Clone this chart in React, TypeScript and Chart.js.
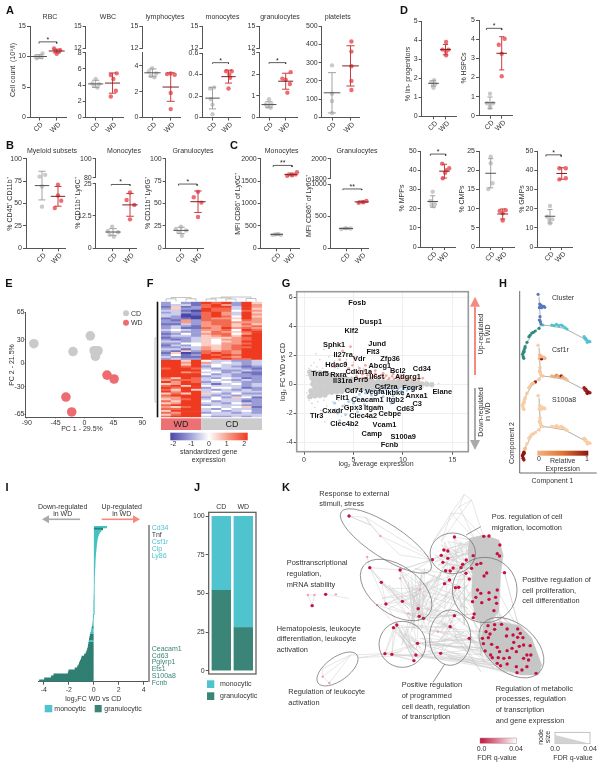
import { useEffect, useRef } from "react";
import { Chart, registerables } from "chart.js";
Chart.register(...registerables);

const PAGE_W = 604, PAGE_H = 769;
const FONT = '"Liberation Sans", Arial, sans-serif';
Chart.defaults.font.family = FONT;
const TXT = "#333333", AXIS = "#555555";
const CD_C = "#C9CACC", WD_C = "#EE6B70", MONO = "#4FC3CE", GRAN = "#3A8577";

/* ---------- dot-plot data: [jitter, value] ---------- */
const rbcCD = [[-.12,9.7],[.15,9.85],[-.2,10],[.05,10.1],[.2,10.5]];
const rbcWD = [[-.15,11.3],[.2,11.05],[-.05,10.95],[.12,10.8],[0,10.45]];
const wbcCD = [[0,4.75],[-.2,4.2],[.2,4.1],[-.1,3.9],[.1,3.7]];
const wbcWD = [[.25,5.45],[-.1,5.25],[.05,4.75],[.2,3.3],[-.1,2.6]];
const lymCD = [[-.02,3.8],[-.2,3.55],[.2,3.4],[-.1,3.2],[.1,3.1]];
const lymWD = [[-.2,3.35],[.22,3.3],[0,3.4],[0,1.9],[0,.65]];
const monCD = [[.1,.28],[-.15,.27],[-.1,.17],[0,.12],[0,.03]];
const monWD = [[-.15,.43],[.2,.43],[.05,.4],[.1,.37],[0,.27]];
const graCD = [[0,.85],[-.2,.6],[.15,.6],[-.1,.5],[.1,.45]];
const graWD = [[.3,2.1],[-.2,1.8],[0,1.75],[.25,1.55],[.1,1.15]];
const pltCD = [[0,285],[0,90],[0,130],[0,25]];
const pltWD = [[.05,415],[.05,360],[.05,280],[.05,200],[.05,150]];
const linCD = [[.05,1.9],[-.2,1.8],[.15,1.7],[-.05,1.6],[0,1.5]];
const linWD = [[.05,3.9],[-.25,3.5],[.25,3.5],[.05,3.4],[.05,3.2]];
const hspCD = [[0,1.15],[-.25,.65],[.25,.65],[0,.5],[0,.4]];
const hspWD = [[.25,4.03],[-.25,3.72],[0,3.25],[0,2.07]];
const myeCD = [[.2,82],[-.15,80],[0,69],[0,46.5]];
const myeWD = [[0,71],[0,59],[.2,53],[-.2,45]];
const bmoCD = [[-.05,8.4],[-.3,6.7],[.3,6.2],[-.2,5.2],[.05,4.5]];
const bmoWD = [[0,21.6],[-.2,18.7],[.25,16.8],[0,11.2]];
const bgrCD = [[0,24],[-.3,21.6],[.3,20],[-.15,18],[.05,14]];
const bgrWD = [[0,63],[-.25,57],[.2,51],[0,35]];
const cmoCD = [[-.3,300],[-.1,310],[.1,320],[.3,300]];
const cmoWD = [[-.25,1620],[.1,1630],[.35,1650],[.45,1700]];
const cgrCD = [[-.3,300],[0,315],[.3,310]];
const cgrWD = [[-.2,710],[.1,720],[.3,740]];
const mppCD = [[0,28.8],[-.2,24],[.2,22.4],[-.1,21.9],[.1,21.2]];
const mppWD = [[-.2,43.4],[.4,41],[.15,40],[.05,38.7],[-.15,35.8]];
const cmpCD = [[0,23.5],[0,21.8],[.15,16.6],[-.2,15.1]];
const cmpWD = [[.25,9.6],[-.25,9.4],[0,8.8],[0,6.9]];
const gmpCD = [[0,21.4],[-.25,15.8],[.2,14.4],[-.05,14],[0,12.3]];
const gmpWD = [[-.2,41],[.35,41],[.35,35.8],[-.2,35.2]];

/* ---------- mean / sd ---------- */
const dotMeans: Record<string, number[][]> = {
  rbc: [[10, .3], [10.9, .3]], wbc: [[4.15, .45], [4.25, 1.25]], lym: [[3.45, .3], [2.35, 1.1]],
  mon: [[.18, .1], [.38, .06]], gra: [[.6, .13], [1.68, .37]], plt: [[135, 110], [282, 110]],
  lin: [[1.73, .15], [3.5, .27]], hsp: [[.68, .3], [3.27, .87]], mye: [[70, 16], [58, 11]],
  bmo: [[6.3, 1.3], [16.8, 4.4]], bgr: [[20, 3.5], [52, 12]], cmo: [[310, 20], [1650, 30]],
  cgr: [[310, 12], [725, 15]], mpp: [[23.7, 3], [39.5, 3.6]], cmp: [[19.2, 3.8], [8.6, 1.3]], gmp: [[16, 3.5], [38.3, 3]],
};

/* ---------- PCA ---------- */
const pcaCD = [[-79,25],[-18,15],[9,35],[15,16],[21,16],[17,9]];
const pcaWD = [[35,-15],[46,-20],[-29,-43],[-20,-62]];

/* ---------- heatmap: digits 0..8 stand for -2..2, one string per gene row, 4 WD then 6 CD samples ---------- */
const heatRows = [
"2421878285","2331786286","1512788386","2522877385","3310877476","2321786385","3301786386","3200787485","1210766586","2162777476",
"2262677666","1132677575","2321667567","2311768676","3432667487","2322576578","1242677468","2332567588","1223555678","2123546678",
"3323545688","2244546678","1324556788","2233656778","3313656788","2152767688","1501787688","2412878788","3211887688","2322878778",
"8858433223","8868634323","8858343323","8878243212","7887323321","8888432232","8867342311","8888423221","8888233222","7587324312",
"6777343232","8687234322","5688313423","7858433323","8788244312","7585323232","8688343333","5758532422","7888323233","6688242541",
"5678343322","7588423312","5688332432","7888233322","6578443451","7788324332","5888342342","7688233232","5788433333","7888322323",
];

/* ---------- MA plot ---------- */
const geneNames = ["Fosb","Dusp1","Klf2","Sphk1","Jund","Flt3","Il27ra","Vdr","Zfp36","Hdac9","Abcg1","Bcl2","Cd34","Traf5","Rxra","Cdkn1a","Il6st","Adgrg1","Il31ra","Prr5","Csf2ra","Fcgr3","Elane","Cd74","Vegfa","Ikbke","Anxa1","Flt1","Ceacam1","Itgb2","C3","Cxadr","Gpx3","Itgam","Cd63","Tlr3","Clec4a2","Cebpe","Clec4b2","Vcam1","Camp","S100a9","Fcnb"];
const geneX = [5.36,6.75,4.79,3.04,7.39,6.98,3.95,5.57,8.7,3.27,7.66,9.48,11.91,1.62,3.48,5.53,7.35,10.49,3.91,5.74,8.3,10.93,13.97,5.03,7.15,9.18,11.37,3.88,6.41,9.21,11.44,2.9,4.96,7.05,10.22,1.28,5.97,8.67,4.08,8.13,6.85,10.02,8.64];
const geneY = [5.63,4.32,3.68,2.71,2.8,2.25,2.05,1.75,1.77,1.31,1.26,.94,1.08,.69,.64,.85,.51,.48,.21,.3,-.18,-.25,-.51,-.44,-.55,-.62,-.83,-.97,-1.06,-1.1,-1.33,-1.84,-1.61,-1.61,-1.7,-2.21,-2.21,-2.02,-2.76,-2.78,-3.43,-3.63,-4.16];
const maCore = [[.9,.02],[1.4,-.04],[1.9,.05],[2.4,-.03],[2.9,.04],[3.4,-.02],[3.9,.03],[4.4,-.05],[4.9,.02],[5.4,.04],[5.9,-.03],[6.4,.02],[6.9,-.04],[7.4,.03],[7.9,-.02],[8.4,.04],[8.9,-.03],[9.4,.02],[9.9,.03],[10.4,-.02],[10.9,.02],[11.4,-.03],[11.9,.02],[12.4,.01],[12.9,-.02],
[1,.24],[1.5,.19],[2,.23],[2.5,.18],[3,.22],[3.5,.2],[4,.17],[4.5,.23],[5,.18],[5.5,.21],[6,.16],[6.5,.2],[7,.17],[7.5,.21],[8,.16],[8.5,.19],[9,.15],[9.5,.18],[10,.14],[10.5,.15],[11,.12],[11.5,.1],
[1.1,-.22],[1.6,-.18],[2.1,-.25],[2.6,-.19],[3.1,-.21],[3.6,-.17],[4.1,-.23],[4.6,-.19],[5.1,-.22],[5.6,-.18],[6.1,-.2],[6.6,-.17],[7.1,-.2],[7.6,-.16],[8.1,-.19],[8.6,-.15],[9.1,-.17],[9.6,-.14],[10.1,-.15],[10.6,-.12],[11.1,-.11],
[.8,.44],[1.3,.41],[1.8,.43],[2.3,.38],[2.8,.42],[3.3,.39],[3.8,.4],[4.3,.37],[4.8,.36],[5.3,.33],[5.8,.31],[6.3,.3],[6.8,.28],
[.7,-.45],[1.2,-.41],[1.7,-.44],[2.2,-.39],[2.7,-.42],[3.2,-.38],[3.7,-.4],[4.2,-.36],[4.7,-.37],[5.2,-.33],[5.7,-.3],[6.2,-.29],[6.7,-.27],
[.7,.66],[1.2,.62],[1.7,.64],[2.2,.58],[2.7,.6],[3.2,.55],[3.7,.53],[.8,-.66],[1.3,-.62],[1.8,-.6],[2.3,-.58],[2.8,-.55],[3.3,-.52],[3.8,-.5],
[.6,.85],[1.1,.82],[1.6,.8],[2.1,.76],[.6,-.85],[1.1,-.8],[1.6,-.78],[2.1,-.74]];
const maSparse = [[.5,1.1],[.7,1.3],[1,1.5],[1.3,1.2],[1.6,1.7],[1.9,1.1],[2.2,1.4],[2.5,1.9],[2.8,1.2],[3.1,1.6],[3.4,1.1],[3.7,2.1],[4,1.3],[4.3,1.7],[4.6,1.1],[5,1.5],[5.5,1.2],[6,1.1],
[.5,-1.1],[.8,-1.3],[1.1,-1.6],[1.4,-1.2],[1.7,-1.8],[2,-1.1],[2.3,-1.5],[2.6,-2],[2.9,-1.2],[3.2,-1.7],[3.5,-1.1],[3.8,-2.2],[4.1,-1.4],[4.4,-1.8],[4.8,-1.1],[5.2,-1.5],[5.7,-1.2],[6.2,-1.1],
[.4,.9],[.4,-.9],[.3,.6],[.3,-.6],[1.2,2.1],[2,2.4],[2.9,2.6],[1.3,-2.2],[2.1,-2.6],[3,-2.8],[11.6,.25],[12.3,.2],[13,.1],[13.6,.05],[12,-.2],[12.8,-.12]];
const maUp = [[3.1,1.2],[3.6,1.7],[3.9,2.3],[4.2,1.5],[4.5,1.1],[4.7,2.6],[4.9,1.3],[5.1,1.8],[5.4,.8],[5.6,1.1],[5.9,.7],[6.1,.95],[6.4,.62],[6.7,.8],[7,.55],[7.2,.72],[7.5,.48],[7.8,.64],[8.1,.45],[8.3,.6],[8.6,.4],[8.9,.55],[9.1,.38],[9.4,.5],[9.7,.35],[10,.45],[10.3,.32],[10.6,.42],[10.9,.3],[11.2,.38],[11.6,.34],[12,.42],[8,.75],[9,.72],[7.2,.95],[6.2,1.3],[5.3,.55],[6,.45],[6.8,.42],[9.8,.62]];
const maDown = [[3.1,-1.3],[3.4,-2],[3.6,-2.5],[3.9,-1.5],[4.2,-2.1],[4.5,-1.2],[4.7,-2.8],[5,-1.3],[5.3,-.9],[5.6,-.7],[5.9,-1],[6.2,-.6],[6.5,-.5],[6.8,-.75],[7.1,-.45],[7.4,-.62],[7.7,-.42],[8,-.58],[8.3,-.38],[8.6,-.55],[8.9,-.35],[9.2,-.5],[9.5,-.32],[9.8,-.45],[10.1,-.3],[10.4,-.42],[10.7,-.28],[11,-.36],[11.3,-.25],[11.7,-.3],[7,-1],[8,-.85],[9,-.8],[10,-.7],[6.1,-1.4],[7.6,-1.5],[5.4,-1.9],[8.8,-1.3]];

/* ---------- trajectory ---------- */
const trajBlue = [[207,118],[212,147],[216,150],[213,155],[221,155],[228,157],[211,158],[218,158],[215,152],[225,154],[213,185],[211,195],[214,200],[216,207]];
const trajCyan = [[222,210],[250,210],[258,212],[265,208],[272,212],[280,210],[285,213],[292,218],[298,222],[352,245],[357,250],[360,256],[365,258],[370,260],[362,262],[355,252]];
const trajGreen = [[210,220],[198,228],[192,232],[187,234],[182,240],[178,245],[172,262],[165,280],[162,287],[160,293],[163,290],[158,298],[160,305],[162,310],[166,275]];
const trajLine = [[210,125],[213,180],[218,210],[240,212],[290,220],[320,235],[370,260],[NaN,NaN],[218,210],[190,235],[170,265],[158,310]];
const csfBlue = [.02,.1,.15,.05,.15,.2,.1,1,.15,.1,.05,.05,.05,.05];
const csfCyan = [.05,.15,.2,.3,.2,.95,.25,.15,.1,.9,1,1,1,.95,1,.9];
const csfGreen = [.05,.95,.1,.1,.05,.05,.05,.02,.02,.02,.02,.02,.02,.02,.02];
const s100Blue = [.02,.02,.02,.02,.02,.02,.02,.02,.02,.02,.02,.02,.02,.02];
const s100Cyan = [.02,.02,.02,.02,.02,.02,.02,.02,.02,.02,.02,.02,.02,.02,.02,.02];
const s100Green = [.02,.02,.02,.02,.02,.02,.02,.05,.95,1,1,1,1,.95,.1];

/* ---------- ranked fold change ---------- */
const rankFC = [1.04,.72,.58,.46,.38,.33,.29,.27,.25,.23,.21,.19,.18,.16,.15,.14,.13,.12,.11,.1,.1,.09,.08,.08,.07,.06,.06,.05,.05,.05,.04,.04,.03,.03,.03,.02,.02,.02,.01,.01,.01,.01,.005,.005,.005,-.01,-.02,-.04,-.06,-.08,-.1,-.13,-.17,-.2,-.26,-.28,-.32,-.35,-.38,-.4,-.43,-.45,-.5,-.55,-.62,-.75,-.95,-1,-1.08,-1.15,-1.2,-1.3,-1.5,-2,-2.05,-3.2,-3.4,-3.95,-4.35];
const rankClass = "mgmmmmmmmmmmmmmmmmmmmmmmmmmmmmmmmmmmmmmmmmmmmmmmmmmgmmmgggmgggggggggggggggggggggggg";

/* ---------- composition ---------- */
const compGran = [52, 28];
const compMono = [48, 72];

/* ---------- network (component coordinates) ---------- */
const netStrong = [[560,186],[649,184],[665,183],[698,210],[528,225],[540,228],[520,241],[540,250],[525,262],[493,254],[596,255],[617,242],[690,236],[697,243],[585,268],[580,278],[556,279],[533,287],[547,288],[640,265],[628,268],[612,280],[595,295],[658,294],[650,303],[712,293],[605,312],[545,315],[530,326],[573,337],[563,338],[630,345],[640,355],[665,353],[690,345],[625,367],[643,383],[665,373],[685,367],[688,385],[615,380],[680,407],[620,417],[617,428],
[303,278],[395,285],[338,322],[169,358],[128,392],[352,387],[402,379],[450,401],[453,424],[466,430],[375,458],[385,450],[448,505],[349,536],[370,538],[443,540],[437,557],[518,535],[547,455],[560,422],[605,490],[240,123],
[662,452],[682,449],[703,448],[682,463],[656,470],[668,477],[720,462],[752,462],[760,475],[738,480],[768,488],[645,490],[663,488],[718,483],[752,487],[740,502],[770,510],[757,514],[648,506],[673,508],[690,517],[653,528],[735,520],[748,530],[790,512],[697,530],[720,527],[670,540],[675,548],[693,548],[710,550],[727,548],[780,540],[792,540],[770,550],[785,555],[690,565],[700,572],[720,567],[748,575],[780,575],[765,585],[750,593],[808,595]];
const netPale = [[335,183],[200,358],[325,390],[420,415],[455,343],[395,310],[295,246],[115,360],[135,360],[462,540],[160,605],[180,624],[510,470]];
const netChains = [
[550,115,590,58,612,75,580,115,550,115,495,200,575,95,620,190,550,115,520,200,580,115,650,190,612,75,575,95,590,58],
[240,123,290,127,305,150,240,123,305,150,335,183,395,240,490,254,335,183,290,127,490,250],
[295,246,303,278,338,322,352,387,303,278,395,285,493,254,395,310,466,430,338,322,450,401,395,285,402,379,352,387,325,390],
[115,360,135,360,128,392,115,360],[169,358,240,370],
[160,605,245,540,180,624,160,605,160,580,245,540,349,536,443,540,270,548,400,530],
[490,254,395,285,470,340,352,387,520,300,402,379,545,315,450,401,573,337,453,424,620,417,466,430,560,422,420,415,547,455,375,458,518,535,443,540,605,490,448,505,650,520,462,540,690,565],
[385,450,640,490,448,505,660,560,370,538,700,572,443,540,750,593,518,535,808,595,605,490,748,575,560,422,720,567,547,455,650,528,470,500,700,540,460,470,650,470,440,450,690,520,470,510,660,500,455,490,645,540,480,530,700,560,500,540,720,590,540,545,740,600,590,510,680,580,600,470,650,560,620,440,660,520,640,430,640,540],
[493,254,620,200,528,225,650,184,540,250,698,210,560,186,640,265,520,241,612,280,525,262,658,294,533,287,690,236,547,288,712,293,556,279,605,312,545,315,595,295,573,337,530,326,617,242,563,338,596,255,540,228,605,312,500,240,610,270,510,270,620,230,500,260,600,210,540,200,610,300,520,210,590,240,560,190,570,290,530,200,540,290,580,200,590,280,600,200,520,280,605,225,495,250],
[620,417,662,452,640,355,682,449,665,373,703,448,685,367,656,470,625,367,720,462,680,407,752,462,643,383,738,480,617,428,668,477,630,345,645,490,690,345,760,475,712,293,770,510,610,300,640,440,590,330,660,445,575,345,650,455,560,360,640,470],
[430,300,440,460,420,320,445,520,460,300,400,510,480,320,450,440,510,310,440,420,470,420,530,326,500,380,560,422,470,400,600,420,540,300,530,400,590,300,590,450,570,330,520,470,610,350,500,520,430,350,600,400,450,320,620,380,420,340,560,300,440,280,590,340,460,290,450,420,440,300,480,400,425,380,500,300,445,400,540,260,430,430,470,280,460,460,520,290,480,450,550,340,490,420,600,330,520,440,620,300,470,430,440,350,430,470,455,360,425,450],
[375,458,443,540,385,450,437,557,390,470,448,505,410,490,462,540,400,480,437,557,349,536,448,505,370,538,385,450,349,536,375,458,370,538,437,557,420,500,450,530,395,470,440,525,410,475,460,520,400,455,450,550,380,470,430,520,415,460,465,535],
[547,455,505,430,530,420,490,480,560,422,520,500,590,470,518,535,547,455,600,520,500,510,620,560,560,480,640,590,540,420,570,500,520,440,600,480,510,500,580,430,500,460,590,520],
[352,387,450,430,338,322,420,400,303,278,430,440,360,330,470,430,395,285,520,420,402,379,540,455,325,390,400,470,360,400,450,360,340,370,460,340,370,340,440,380,400,300,470,380],
];
const netDenseTop = [605,190,650,180,695,195,708,240,700,300,695,410,665,445,625,435,612,360,615,300,605,262,600,230];
const netDenseLow = [648,445,700,440,760,452,795,490,825,570,815,600,760,600,700,580,660,545,640,500];
const netEllipses = [[352,198,160,50,33],[555,235,68,61,0],[383,345,122,72,36],[652,345,97,98,0],[547,488,62,83,0],[402,508,70,69,0],[733,518,112,72,40],[205,582,72,35,-36]];
const netLeaders = [[595,180,640,155],[495,622,530,568]];

/* ---------- helpers ---------- */
const seg = (list: number[][]) => list.flatMap(([a, b, c, d]) => [{ x: a, y: b }, { x: c, y: d }, { x: NaN, y: NaN }]);
const pts = (list: number[][]) => list.map(([x, y]) => ({ x, y }));
const flat = (l: number[]) => { const o: any[] = []; for (let i = 0; i < l.length; i += 2) o.push({ x: l[i], y: l[i + 1] }); return o; };

const pad = (b: any, W = 0, H = 0, xTop = false) => ({
  left: b.l - W, right: PAGE_W - b.r,
  top: xTop ? b.t - H : b.t, bottom: xTop ? PAGE_H - b.b : PAGE_H - b.b - H,
});
const base = (b: any, W = 0, H = 0, xTop = false) => ({
  animation: false as const, responsive: false, maintainAspectRatio: false, events: [] as any[],
  layout: { padding: pad(b, W, H, xTop) },
  plugins: { legend: { display: false }, title: { display: false }, tooltip: { enabled: false } },
});
const hidden = (min: number, max: number, extra: any = {}) => ({ type: "linear", display: false, min, max, ...extra });
const axis = (min: number, max: number, ticks: number[], size: number, opts: any = {}) => ({
  type: "linear", min, max, offset: false,
  afterBuildTicks: (s: any) => { s.ticks = ticks.map(v => ({ value: v })); },
  afterFit: (s: any) => { if (s.isHorizontal()) s.height = size; else s.width = size; },
  ticks: { autoSkip: false, font: { size: opts.font || 7 }, color: TXT, padding: opts.tickPad ?? 1, maxRotation: 0, minRotation: 0, callback: opts.label || ((v: any) => String(v)) },
  grid: { drawOnChartArea: !!opts.gridColor, color: opts.gridColor || AXIS, tickColor: AXIS, tickLength: opts.tickLen ?? 3, offset: false },
  border: { display: opts.border !== false, color: AXIS, width: 1 },
  ...(opts.extra || {}),
});
const line = (data: any[], color: string, width = 1, extra: any = {}) => ({ data, showLine: true, pointRadius: 0, borderColor: color, borderWidth: width, clip: false, ...extra });
const dots = (data: any[], color: any, r: number, extra: any = {}) => ({ data, showLine: false, pointRadius: r, pointBackgroundColor: color, pointBorderWidth: 0, clip: false, ...extra });

function dotPanel(d: any, cd: number[][], wd: number[][], key: string) {
  const unit = d.wdX - d.cdX;
  const b = { l: d.axis, r: d.right, t: d.top, b: d.bottom };
  const [[mc, sc], [mw, sw]] = dotMeans[key];
  const whisker = (x: number, m: number, s: number) => seg([[x, m - s, x, m + s], [x - .22, m + s, x + .22, m + s], [x - .22, m - s, x + .22, m - s]]);
  const ds: any[] = [
    line(seg([[-.45, mc, .45, mc]]), "#555555"),
    line(seg([[.55, mw, 1.45, mw]]), "#7D1F22"),
    line(whisker(0, mc, sc), "#A2A2A4"),
    line(whisker(1, mw, sw), "#C83C42"),
  ];
  const notes: any[] = [];
  if (d.bracket) {
    const [y, from, to, star] = d.bracket;
    const drop = d.ymax * .018;
    ds.unshift(line(seg([[from, y - drop, from, y], [from, y, to, y], [to, y, to, y - drop]]), "#333333", .8));
    notes.push([star, (from + to) / 2, y]);
  }
  ds.push(dots(pts(cd), CD_C, 2.2), dots(wd.map(([j, y]) => ({ x: 1 + j, y })), WD_C, 2.2));
  const out: any[] = [{
    type: "scatter", data: { datasets: ds },
    options: {
      ...base(b, 22, 16),
      scales: {
        x: axis((d.axis - d.cdX) / unit, (d.right - d.cdX) / unit, [0, 1], 16, {
          label: (v: any) => (v === 0 ? "CD" : "WD"), tickPad: 0,
        }),
        y: axis(0, d.ymax, d.ticks, 22),
      },
    },
    plugins: notes.length ? [{
      id: "stars",
      afterDraw(c: any) {
        const g = c.ctx; g.save(); g.fillStyle = "#222"; g.font = `7px ${FONT}`; g.textAlign = "center"; g.textBaseline = "middle";
        notes.forEach(([s, x, y]) => g.fillText(s, c.scales.x.getPixelForValue(x), c.scales.y.getPixelForValue(y) - 2));
        g.restore();
      },
    }] : [],
  }];
  const xt = out[0].options.scales.x.ticks;
  xt.minRotation = 45; xt.maxRotation = 45; xt.labelOffset = 3;
  if (d.upper) {
    const [t, bt, lo, hi] = d.upper;
    const ub = { l: d.axis, r: d.axis + 2, t, b: bt };
    out.push({
      type: "scatter", data: { datasets: [] },
      options: { ...base(ub, 22, 0), scales: { x: hidden(0, 1), y: { ...axis(lo, hi, [lo, hi], 22) } } },
    });
  }
  return out;
}

const lerpHex = (stops: string[], t: number) => {
  const n = stops.length - 1, p = Math.max(0, Math.min(n, t * n)), i = Math.min(n - 1, Math.floor(p)), f = p - i;
  const h = (s: string, k: number) => parseInt(s.slice(1 + 2 * k, 3 + 2 * k), 16);
  const c = [0, 1, 2].map(k => Math.round(h(stops[i], k) + (h(stops[i + 1], k) - h(stops[i], k)) * f));
  return `rgb(${c[0]},${c[1]},${c[2]})`;
};
const HEAT = ["#4A46A8", "#9A9DD6", "#FFFFFF", "#F79A86", "#EF3A20"];
const EXPR = ["#F9D2AC", "#E0752F", "#8E1414"];

function buildSpecs() {
  const specs: any[] = [];
  const T1 = 26, B1 = 117.5;
  const add = (...a: any[]) => specs.push(...a);
  add(...dotPanel({ axis: 30, right: 66, cdX: 39, wdX: 56.7, top: T1, bottom: B1, ymax: 15, ticks: [0, 5, 10, 15], bracket: [12.4, 0, 1, "*"] }, rbcCD, rbcWD, "rbc"));
  add(...dotPanel({ axis: 85.7, right: 124, cdX: 95.7, wdX: 112.5, top: 52.7, bottom: B1, ymax: 8, ticks: [0, 2, 4, 6, 8], upper: [T1, 48, 12, 15] }, wbcCD, wbcWD, "wbc"));
  add(...dotPanel({ axis: 142.3, right: 180, cdX: 152.5, wdX: 170.7, top: 52.7, bottom: B1, ymax: 5, ticks: [0, 2, 4], upper: [T1, 48, 12, 15] }, lymCD, lymWD, "lym"));
  add(...dotPanel({ axis: 202.3, right: 240, cdX: 212.5, wdX: 228.5, top: 53, bottom: B1, ymax: .6, ticks: [0, .2, .4, .6], bracket: [.51, 0, 1, "*"], upper: [T1, 48, 12, 15] }, monCD, monWD, "mon"));
  add(...dotPanel({ axis: 259.3, right: 297, cdX: 269, wdX: 285.7, top: 52.7, bottom: B1, ymax: 3, ticks: [0, 1, 2, 3], bracket: [2.54, 0, 1, "*"], upper: [T1, 48, 12, 15] }, graCD, graWD, "gra"));
  add(...dotPanel({ axis: 321.7, right: 360, cdX: 332, wdX: 350.5, top: T1, bottom: B1, ymax: 500, ticks: [0, 100, 200, 300, 400, 500] }, pltCD, pltWD, "plt"));
  add(...dotPanel({ axis: 421.7, right: 456.7, cdX: 433.5, wdX: 445.5, top: 21, bottom: 116.3, ymax: 5, ticks: [0, 1, 2, 3, 4, 5] }, linCD, linWD, "lin"));
  add(...dotPanel({ axis: 479, right: 512.7, cdX: 490, wdX: 501.7, top: 20.3, bottom: 115.7, ymax: 5, ticks: [0, 1, 2, 3, 4, 5], bracket: [4.58, -.3, 1, "*"] }, hspCD, hspWD, "hsp"));
  const T2 = 158.7, B2 = 248.3;
  add(...dotPanel({ axis: 26, right: 65, cdX: 42, wdX: 58, top: T2, bottom: B2, ymax: 100, ticks: [0, 25, 50, 75, 100] }, myeCD, myeWD, "mye"));
  add(...dotPanel({ axis: 95.7, right: 137, cdX: 113, wdX: 130, top: 183.7, bottom: B2, ymax: 25, ticks: [0, 12.5, 25], bracket: [24.7, -.1, 1, "*"], upper: [T2, 178, 80, 100] }, bmoCD, bmoWD, "bmo"));
  add(...dotPanel({ axis: 165.7, right: 204, cdX: 181, wdX: 198, top: T2, bottom: B2, ymax: 100, ticks: [0, 25, 50, 75, 100], bracket: [71.7, -.15, .95, "*"] }, bgrCD, bgrWD, "bgr"));
  add(...dotPanel({ axis: 260.7, right: 300, cdX: 276.7, wdX: 290.7, top: T2, bottom: B2, ymax: 2000, ticks: [0, 500, 1000, 1500, 2000], bracket: [1850, -.25, 1.1, "**"] }, cmoCD, cmoWD, "cmo"));
  add(...dotPanel({ axis: 330.7, right: 369, cdX: 346, wdX: 361.7, top: 184.3, bottom: B2, ymax: 1000, ticks: [0, 500, 1000], bracket: [927, -.2, 1, "**"], upper: [T2, 179, 1800, 2000] }, cgrCD, cgrWD, "cgr"));
  add(...dotPanel({ axis: 420.7, right: 455.7, cdX: 432.7, wdX: 444.5, top: 151, bottom: 247, ymax: 50, ticks: [0, 10, 20, 30, 40, 50], bracket: [48.4, -.2, 1.1, "*"] }, mppCD, mppWD, "mpp"));
  add(...dotPanel({ axis: 479, right: 514, cdX: 490.7, wdX: 502.7, top: 151, bottom: 247, ymax: 25, ticks: [0, 5, 10, 15, 20, 25] }, cmpCD, cmpWD, "cmp"));
  add(...dotPanel({ axis: 537.3, right: 572, cdX: 550, wdX: 561.7, top: 151, bottom: 247, ymax: 50, ticks: [0, 10, 20, 30, 40, 50], bracket: [48, -.35, .95, "*"] }, gmpCD, gmpWD, "gmp"));

  /* E: PCA */
  add({
    type: "scatter",
    data: { datasets: [dots(pts(pcaCD), CD_C, 4.8), dots(pts(pcaWD), WD_C, 4.8)] },
    options: {
      ...base({ l: 25.5, r: 142.3, t: 312.3, b: 417.3 }, 22, 14),
      scales: {
        x: axis(-92, 90, [-90, -45, 0, 45, 90], 14, { tickLen: 1 }),
        y: axis(-68.8, 65, [-65, -30, 0, 30, 65], 22, { tickLen: 1, tickPad: 0 }),
      },
    },
  });

  /* F: heatmap */
  const heatData = heatRows.map(r => r.split("").map(c => Number(c) / 2 - 2));
  add({
    type: "bar",
    data: {
      labels: heatRows[0].split("").map((_, i) => (i < 4 ? "WD" : "CD") + i),
      datasets: heatData.map(row => ({ data: row.map(() => 1), backgroundColor: row.map(v => lerpHex(HEAT, (v + 2) / 4)), borderWidth: 0, barPercentage: 1, categoryPercentage: 1 })),
    },
    options: {
      ...base({ l: 161, r: 262, t: 301.7, b: 417.3 }),
      scales: { x: { display: false, stacked: true }, y: { type: "linear", display: false, stacked: true, min: 0, max: 60, reverse: true } },
    },
  });

  /* G: MA plot */
  add({
    type: "scatter",
    data: {
      datasets: [
        dots(pts(maUp), "#F3A9A2", 1.4),
        dots(pts(maDown), "#A8CDEF", 1.4),
        dots(pts(maCore), "#CDCDCD", 2.7),
        dots(pts(maSparse), "#D2D2D2", .8),
      ],
    },
    options: {
      ...base({ l: 296.7, r: 468.3, t: 291.7, b: 451.7 }, 12, 10),
      scales: {
        x: axis(-.74, 16.6, [0, 5, 10, 15], 10, { gridColor: "#EFEFEF", border: false }),
        y: axis(-4.65, 6.39, [-4, -2, 0, 2, 4, 6], 12, { gridColor: "#EFEFEF", border: false }),
      },
    },
    plugins: [{
      id: "genes",
      afterDraw(c: any) {
        const g = c.ctx, a = c.chartArea;
        g.save();
        g.strokeStyle = "#999999"; g.lineWidth = 1.6; g.strokeRect(a.left, a.top, a.right - a.left, a.bottom - a.top);
        g.fillStyle = "#111"; g.font = `bold 7.4px ${FONT}`; g.textAlign = "center"; g.textBaseline = "middle";
        geneNames.forEach((n, i) => g.fillText(n, c.scales.x.getPixelForValue(geneX[i]), c.scales.y.getPixelForValue(geneY[i])));
        g.restore();
      },
    }],
  });

  /* H: three trajectories */
  const trajColor = (v: number) => lerpHex(EXPR, v);
  const trajPanel = (dy: number, blue: any, cyan: any, green: any, size = 1.6) => ({
    type: "scatter",
    data: {
      datasets: [
        dots(pts(trajBlue), blue, size), dots(pts(trajCyan), cyan, size), dots(pts(trajGreen), green, size),
        line(pts(trajLine), "#777777", .6),
      ],
    },
    options: { ...base({ l: 519.7, r: 604, t: 288.3 + dy, b: 361.7 + dy }), scales: { x: hidden(149, 402), y: hidden(100, 320, { reverse: true }) } },
  });
  add(trajPanel(0, "#5A78C0", MONO, "#2E8B7B"));
  add(trajPanel(51, csfBlue.map(trajColor), csfCyan.map(trajColor), csfGreen.map(trajColor), 1.8));
  add(trajPanel(101.5, s100Blue.map(trajColor), s100Cyan.map(trajColor), s100Green.map(trajColor), 1.8));

  /* I: ranked bars */
  add({
    type: "bar",
    data: {
      labels: rankFC.map((_, i) => String(i)),
      datasets: [{ data: rankFC, backgroundColor: rankFC.map((_, i) => (rankClass[i] === "m" ? "#47C2C4" : "#2F7F72")), borderWidth: 0, barPercentage: 1, categoryPercentage: 1 }],
    },
    options: {
      ...base({ l: 38, r: 148.7, t: 526, b: 681.7 }, 0, 10),
      indexAxis: "y",
      scales: {
        x: axis(-4.47, 4.41, [-4, -2, 0, 2, 4], 10),
        y: {
          type: "category", position: "right", ticks: { display: false },
          grid: { display: false }, border: { display: true, color: "#999999", width: 2 },
          afterFit: (s: any) => { s.width = 0; },
        },
      },
    },
  });

  /* J: stacked composition */
  add({
    type: "bar",
    data: {
      datasets: [
        { label: "granulocytic", data: compGran.map((y, x) => ({ x, y })), backgroundColor: GRAN, barThickness: 18.7 },
        { label: "monocytic", data: compMono.map((y, x) => ({ x, y })), backgroundColor: MONO, barThickness: 18.7 },
      ],
    },
    options: {
      ...base({ l: 208.7, r: 256, t: 512.3, b: 674 }, 20, 0, true),
      scales: {
        x: { ...hidden(-.573, 1.577), stacked: true, offset: false },
        y: { ...axis(-2.14, 102.6, [0, 25, 50, 75, 100], 20, { border: false }), stacked: true },
      },
    },
    plugins: [{
      id: "box",
      afterDraw(c: any) {
        const g = c.ctx, a = c.chartArea; g.save(); g.strokeStyle = "#555"; g.lineWidth = 1.2;
        g.strokeRect(a.left, a.top, a.right - a.left, a.bottom - a.top);
        g.fillStyle = TXT; g.font = `7px ${FONT}`; g.textAlign = "center"; g.textBaseline = "middle";
        ["CD", "WD"].forEach((s, i) => g.fillText(s, c.scales.x.getPixelForValue(i), a.top - 5));
        g.restore();
      },
    }],
  });

  /* K: enrichment network */
  const chainData = netChains.flatMap(c => [...flat(c), { x: NaN, y: NaN }]);
  add({
    type: "scatter",
    data: {
      datasets: [
        dots(pts(netStrong), "#C8103F", 1.7),
        dots(pts(netPale), "#F0A2B8", 1.2),
        line(chainData, "rgba(200,200,200,.8)", .55),
        line(flat(netDenseTop), "#C6C6C6", .5, { fill: "shape", backgroundColor: "#C9C9C9" }),
        line(flat(netDenseLow), "#C6C6C6", .5, { fill: "shape", backgroundColor: "#C6C6C6" }),
      ],
    },
    options: { ...base({ l: 270, r: 604, t: 475, b: 765 }), scales: { x: hidden(0, 1002), y: hidden(0, 870, { reverse: true }) } },
    plugins: [{
      id: "rings",
      afterDraw(c: any) {
        const g = c.ctx, X = (v: number) => c.scales.x.getPixelForValue(v), Y = (v: number) => c.scales.y.getPixelForValue(v);
        g.save(); g.strokeStyle = "#666"; g.lineWidth = .7;
        netEllipses.forEach(([cx, cy, rx, ry, rot]) => {
          g.beginPath(); g.ellipse(X(cx), Y(cy), rx / 3, ry / 3, rot * Math.PI / 180, 0, Math.PI * 2); g.stroke();
        });
        netLeaders.forEach(([a, b, d, e]) => { g.beginPath(); g.moveTo(X(a), Y(b)); g.lineTo(X(d), Y(e)); g.stroke(); });
        g.restore();
      },
    }],
  });

  /* page-level annotation layer */
  add({
    type: "scatter", data: { datasets: [] },
    options: { ...base({ l: 0, r: PAGE_W, t: 0, b: PAGE_H }), scales: { x: hidden(0, 1), y: hidden(0, 1) } },
    plugins: [{ id: "page", afterDraw(c: any) { drawPage(c.ctx); } }],
  });
  return specs;
}

function drawPage(g: CanvasRenderingContext2D) {
  const T = (s: string, x: number, y: number, o: any = {}) => {
    g.save();
    g.fillStyle = o.color || TXT;
    g.font = `${o.bold ? "bold " : ""}${o.size || 7}px ${FONT}`;
    g.textAlign = o.align || "center"; g.textBaseline = "middle";
    g.translate(x, y); if (o.rot) g.rotate(-Math.PI / 2);
    g.fillText(s, 0, 0); g.restore();
  };
  const R = (s: string, x: number, y: number, o: any = {}) => T(s, x, y, { rot: true, ...o });
  const L = (s: string, x: number, y: number, o: any = {}) => T(s, x, y, { align: "left", ...o });
  const rect = (x: number, y: number, w: number, h: number, c: any) => { g.fillStyle = c; g.fillRect(x, y, w, h); };
  const arrow = (x1: number, y1: number, x2: number, y2: number, c: string, sw: number, hw: number, hl: number) => {
    const a = Math.atan2(y2 - y1, x2 - x1), bx = x2 - hl * Math.cos(a), by = y2 - hl * Math.sin(a);
    g.save(); g.strokeStyle = c; g.fillStyle = c; g.lineWidth = sw;
    g.beginPath(); g.moveTo(x1, y1); g.lineTo(bx, by); g.stroke();
    g.beginPath(); g.moveTo(x2, y2);
    g.lineTo(bx - hw / 2 * Math.sin(a), by + hw / 2 * Math.cos(a));
    g.lineTo(bx + hw / 2 * Math.sin(a), by - hw / 2 * Math.cos(a));
    g.closePath(); g.fill(); g.restore();
  };
  const grad = (x: number, y: number, w: number, h: number, stops: string[]) => {
    const l = g.createLinearGradient(x, 0, x + w, 0);
    stops.forEach((c, i) => l.addColorStop(i / (stops.length - 1), c));
    g.fillStyle = l; g.fillRect(x, y, w, h);
  };

  /* panel letters */
  ([["A", 10, 11], ["D", 404, 11], ["B", 10, 146], ["C", 234, 146], ["E", 9, 284], ["F", 150, 284], ["G", 286, 284], ["H", 503, 284], ["I", 7, 488], ["J", 197, 488], ["K", 286, 488]] as any[])
    .forEach(([s, x, y]) => T(s, x, y, { bold: true, size: 11, color: "#111" }));

  /* A */
  ([["RBC", 50], ["WBC", 108], ["lymphocytes", 165], ["monocytes", 222.5], ["granulocytes", 280], ["platelets", 337.7]] as any[]).forEach(([s, x]) => T(s, x, 16.7));
  R("Cell count  (10⁹/l)", 13.5, 70);
  /* D */
  R("% lin- progenitors", 407.7, 74);
  R("% HSPCs", 464, 68);
  /* B, C */
  ([["Myeloid subsets", 52], ["Monocytes", 124], ["Granulocytes", 193], ["Monocytes", 281.7], ["Granulocytes", 357]] as any[]).forEach(([s, x]) => T(s, x, 151));
  R("% CD45⁺ CD11b⁺", 10, 204);
  R("% CD11b⁺ Ly6C⁺", 78.3, 203);
  R("% CD11b⁺ Ly6G⁺", 148.3, 203);
  R("MFI CD86⁺ of Ly6C⁺", 238, 204);
  R("MFI CD86⁺ of Ly6G⁺", 309, 206);
  R("% MPPs", 402, 198);
  R("% CMPs", 461.7, 199);
  R("% GMPs", 521.7, 199);

  /* E */
  T("PC 1 - 29.5%", 82, 429);
  R("PC 2 - 21.5%", 12, 365);
  g.fillStyle = CD_C; g.beginPath(); g.arc(126, 313.3, 3, 0, 7); g.fill();
  g.fillStyle = WD_C; g.beginPath(); g.arc(126, 322.7, 3, 0, 7); g.fill();
  L("CD", 131, 314); L("WD", 131, 323);

  /* F */
  g.strokeStyle = "#888"; g.lineWidth = .5;
  ([[166, 176, 298.8, 301.5, 301.5], [186, 196, 298.8, 301.5, 301.5], [171, 191, 297.5, 298.8, 298.8], [206, 216, 299, 301.5, 301.5], [226, 236, 299, 301.5, 301.5], [246, 256, 298.5, 301.5, 301.5], [211, 231, 298, 299, 299], [221, 251, 297, 298, 298.5]] as number[][])
    .forEach(([a, b, y, d1, d2]) => { g.beginPath(); g.moveTo(a, d1); g.lineTo(a, y); g.lineTo(b, y); g.lineTo(b, d2); g.stroke(); });
  rect(156.7, 301.7, 1.6, 115.6, "#111");
  g.beginPath(); g.moveTo(156, 338); g.lineTo(155, 338); g.lineTo(155, 402); g.lineTo(156, 402); g.stroke();
  rect(161, 418.3, 40.3, 11.7, "#EC7074");
  rect(201.3, 418.3, 60.7, 11.7, "#CCCCCC");
  T("WD", 181, 424.3, { size: 9, color: "#222" });
  T("CD", 232, 424.3, { size: 9, color: "#222" });
  grad(170.3, 432.7, 77.4, 7.6, HEAT);
  ([["-2", 173.3], ["-1", 191.3], ["0", 209], ["1", 226.7], ["2", 244.3]] as any[]).forEach(([s, x]) => T(s, x, 444.5));
  T("standardized gene", 208.7, 452.3);
  T("expression", 208.7, 460.3);

  /* G */
  T("log₂ average expression", 376, 464);
  R("log₂ FC WD vs CD", 283, 372);
  arrow(475, 375, 475, 296.7, "#F58A80", 2, 10, 10);
  arrow(475, 388, 475, 450, "#AAAAAA", 2, 10, 10);
  R("Up-regulated", 481.5, 334); R("in WD", 488.5, 334);
  R("Down-regulated", 481.5, 412); R("in WD", 488.5, 412);

  /* H */
  g.strokeStyle = "#444"; g.lineWidth = .8;
  g.beginPath(); g.moveTo(519.7, 291); g.lineTo(519.7, 473); g.lineTo(596.7, 473); g.stroke();
  L("Cluster", 552, 298); L("Csf1r", 552, 349.7); L("S100a8", 552, 399.7);
  R("Component 2", 512, 443);
  T("Component 1", 552.5, 481.3);
  grad(537.3, 450.7, 51, 5, ["#F4B183", "#E0752F", "#8E1414"]);
  T("0", 539, 459.5); T("1", 587, 459.5); T("Relative", 562.7, 461); T("Expression", 562.7, 469);

  /* I */
  arrow(80, 519.3, 42, 519.3, "#AAAAAA", 1.6, 8, 7);
  arrow(101.7, 519.3, 140, 519.3, "#F58A80", 1.6, 8, 7);
  T("Down-regulated", 62.7, 506.7); T("in WD", 62.7, 514);
  T("Up-regulated", 121.7, 506.7); T("in WD", 121.7, 514);
  ([["Cd34", 527.7, MONO], ["Tnf", 535, "#444"], ["Csf1r", 542, MONO], ["Clp", 549, MONO], ["Ly86", 556.3, MONO], ["Ceacam1", 649, GRAN], ["Cd63", 655.7, GRAN], ["Pglyrp1", 662, GRAN], ["Ets1", 669, GRAN], ["S100a8", 676, GRAN], ["Fcnb", 682.7, GRAN]] as any[])
    .forEach(([s, y, color]) => L(s, 151.7, y, { color }));
  T("log₂FC WD vs CD", 93.3, 699);
  rect(44.7, 705, 7.6, 7.3, MONO); L("monocytic", 54.3, 708.7);
  rect(94.7, 705, 7, 7.3, GRAN); L("granulocytic", 104.3, 708.7);

  /* J */
  rect(207, 680.3, 7.3, 7.7, MONO); L("monocytic", 220, 684);
  rect(207, 692.3, 7.3, 7.7, GRAN); L("granulocytic", 220, 695.7);

  /* K */
  const K = (lines: string[], x: number, y: number) => lines.forEach((s, i) => L(s, x, y + i * 10.65, { size: 7.4 }));
  K(["Response to external", "stimuli, stress"], 319.3, 493.5);
  K(["Pos. regulation of cell", "migration, locomotion"], 491.7, 517.3);
  K(["Posttranscriptional", "regulation,", "mRNA stability"], 286.7, 563.3);
  K(["Positive regulation of", "cell proliferation,", "cell differentiation"], 522.3, 580);
  K(["Hematopoiesis, leukocyte", "differentiation, leukocyte", "activation"], 276.7, 628.7);
  K(["Regulation of leukocyte", "activation"], 288.3, 692.3);
  K(["Positive regulation", "of programmed", "cell death, regulation", "of transcription"], 401.7, 685.3);
  K(["Regulation of metabolic", "processes, regulation", "of transcription", "and gene expression"], 495.7, 688.7);
  grad(480, 738, 36.7, 5.3, ["#C8103F", "#FFFFFF"]);
  g.strokeStyle = "#999"; g.lineWidth = .5; g.strokeRect(480, 738, 36.7, 5.3);
  T("0.0", 481.5, 749.5); T("0.04", 516, 749.5); T("FDR q-value", 497, 758.3);
  g.strokeStyle = "#AAA"; g.lineWidth = .7; g.strokeRect(555, 732.3, 35, 11.4);
  g.fillStyle = "#D2D2D2"; g.beginPath(); g.moveTo(555, 735); g.lineTo(590, 743.7); g.lineTo(555, 743.7); g.closePath(); g.fill();
  T("0.0", 555, 749.5); T("0.04", 590, 749.5); T("FDR q-value", 573, 758.3);
  R("node", 540.7, 737); R("size", 548, 737);
}

export default function App() {
  const specs = useRef<any[]>(buildSpecs());
  const holder = useRef<HTMLDivElement | null>(null);
  useEffect(() => {
    const charts: Chart[] = [];
    const host = holder.current!;
    const cvs: HTMLCanvasElement[] = [];
    specs.current.forEach(cfg => {
      const c = document.createElement("canvas");
      c.width = PAGE_W; c.height = PAGE_H;
      c.style.position = "absolute"; c.style.left = "0"; c.style.top = "0";
      host.appendChild(c); cvs.push(c);
      charts.push(new Chart(c, cfg));
    });
    return () => { charts.forEach(c => c.destroy()); cvs.forEach(c => c.remove()); };
  }, []);
  return <div ref={holder} style={{ position: "absolute", left: 0, top: 0, width: PAGE_W, height: PAGE_H, background: "#fff" }} />;
}
